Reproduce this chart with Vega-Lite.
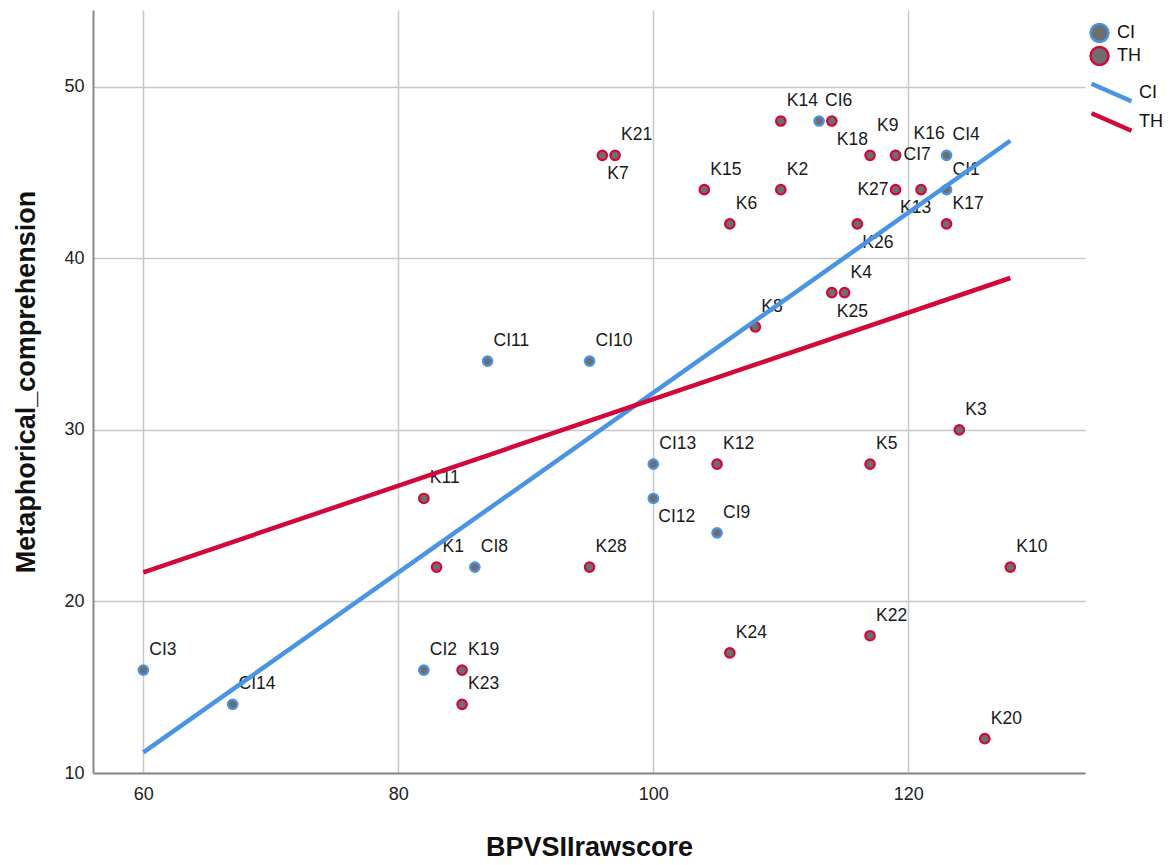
{
  "$schema": "https://vega.github.io/schema/vega-lite/v6.json",
  "width": 992,
  "height": 763,
  "autosize": {"type": "none"},
  "padding": {"left": 93, "top": 10, "right": 90, "bottom": 92},
  "background": "white",
  "config": {
    "font": "Liberation Sans",
    "view": {"stroke": null},
    "axis": {"labelFont": "Liberation Sans", "titleFont": "Liberation Sans"},
    "legend": {"labelFont": "Liberation Sans"}
  },
  "datasets": {
    "points": [
      {"name": "CI3", "group": "CI", "x": 60, "y": 16},
      {"name": "CI14", "group": "CI", "x": 67, "y": 14},
      {"name": "CI2", "group": "CI", "x": 82, "y": 16},
      {"name": "CI8", "group": "CI", "x": 86, "y": 22},
      {"name": "CI11", "group": "CI", "x": 87, "y": 34},
      {"name": "CI10", "group": "CI", "x": 95, "y": 34},
      {"name": "CI13", "group": "CI", "x": 100, "y": 28},
      {"name": "CI12", "group": "CI", "x": 100, "y": 26},
      {"name": "CI9", "group": "CI", "x": 105, "y": 24},
      {"name": "CI6", "group": "CI", "x": 113, "y": 48},
      {"name": "CI7", "group": "CI", "x": 119, "y": 46},
      {"name": "CI4", "group": "CI", "x": 123, "y": 46},
      {"name": "CI1", "group": "CI", "x": 123, "y": 44},
      {"name": "K19", "group": "TH", "x": 85, "y": 16},
      {"name": "K23", "group": "TH", "x": 85, "y": 14},
      {"name": "K11", "group": "TH", "x": 82, "y": 26},
      {"name": "K1", "group": "TH", "x": 83, "y": 22},
      {"name": "K28", "group": "TH", "x": 95, "y": 22},
      {"name": "K7", "group": "TH", "x": 96, "y": 46},
      {"name": "K21", "group": "TH", "x": 97, "y": 46},
      {"name": "K12", "group": "TH", "x": 105, "y": 28},
      {"name": "K15", "group": "TH", "x": 104, "y": 44},
      {"name": "K6", "group": "TH", "x": 106, "y": 42},
      {"name": "K2", "group": "TH", "x": 110, "y": 44},
      {"name": "K14", "group": "TH", "x": 110, "y": 48},
      {"name": "K18", "group": "TH", "x": 114, "y": 48},
      {"name": "K8", "group": "TH", "x": 108, "y": 36},
      {"name": "K25", "group": "TH", "x": 114, "y": 38},
      {"name": "K4", "group": "TH", "x": 115, "y": 38},
      {"name": "K26", "group": "TH", "x": 116, "y": 42},
      {"name": "K9", "group": "TH", "x": 117, "y": 46},
      {"name": "K16", "group": "TH", "x": 119, "y": 46},
      {"name": "K27", "group": "TH", "x": 119, "y": 44},
      {"name": "K13", "group": "TH", "x": 121, "y": 44},
      {"name": "K17", "group": "TH", "x": 123, "y": 42},
      {"name": "K5", "group": "TH", "x": 117, "y": 28},
      {"name": "K3", "group": "TH", "x": 124, "y": 30},
      {"name": "K10", "group": "TH", "x": 128, "y": 22},
      {"name": "K22", "group": "TH", "x": 117, "y": 18},
      {"name": "K24", "group": "TH", "x": 106, "y": 17},
      {"name": "K20", "group": "TH", "x": 126, "y": 12}
    ],
    "fits": [
      {"fit": "CI_fit", "x": 60, "y": 11.2},
      {"fit": "CI_fit", "x": 128, "y": 46.85},
      {"fit": "TH_fit", "x": 60, "y": 21.7},
      {"fit": "TH_fit", "x": 128, "y": 38.85}
    ]
  },
  "encoding": {
    "x": {
      "field": "x", "type": "quantitative",
      "scale": {"domain": [56.05, 133.86], "nice": false, "zero": false},
      "axis": {
        "values": [60, 80, 100, 120], "grid": true, "gridColor": "#C8C8C8", "gridWidth": 1.5,
        "domainColor": "#8A8A8A", "domainWidth": 2, "ticks": false,
        "labelFontSize": 18, "labelColor": "#222222", "labelPadding": 12,
        "title": "BPVSIIrawscore", "titleFontSize": 27, "titleFontWeight": "bold", "titleColor": "#111111",
        "titleY": 82, "titleBaseline": "alphabetic"
      }
    },
    "y": {
      "field": "y", "type": "quantitative",
      "scale": {"domain": [10, 54.47], "nice": false, "zero": false},
      "axis": {
        "values": [10, 20, 30, 40, 50], "grid": true, "gridColor": "#C8C8C8", "gridWidth": 1.5,
        "domainColor": "#8A8A8A", "domainWidth": 2, "ticks": false,
        "labelFontSize": 18, "labelColor": "#222222", "labelPadding": 9,
        "title": "Metaphorical_comprehension", "titleFontSize": 27, "titleFontWeight": "bold", "titleColor": "#111111",
        "titleAngle": 270, "titleX": -58.5, "titleY": 371.5, "titleBaseline": "alphabetic", "titleAlign": "center"
      }
    }
  },
  "layer": [
    {
      "data": {"name": "points"},
      "mark": {"type": "point", "shape": "circle", "filled": false, "fill": "#6E6E6E", "fillOpacity": 1, "strokeWidth": 2.2, "size": 90, "opacity": 1},
      "encoding": {
        "stroke": {
          "field": "group", "type": "nominal",
          "scale": {"domain": ["CI", "TH"], "range": ["#4A94E6", "#D3083A"]},
          "legend": {
            "title": null, "orient": "none", "legendX": 996, "legendY": 13, "padding": 0,
            "symbolType": "circle", "symbolSize": 320, "symbolFillColor": "#6E6E6E", "symbolStrokeWidth": 2.5,
            "labelFontSize": 18, "labelColor": "#111111", "labelOffset": 7, "rowPadding": 3, "clipHeight": 20
          }
        }
      }
    },
    {
      "data": {"name": "points"},
      "transform": [{"filter": {"not": {"field": "name", "oneOf": ["K7", "CI12", "K25", "K26", "K18", "K9", "K16", "CI7", "K27", "K13"]}}}],
      "mark": {"type": "text", "align": "left", "baseline": "middle", "dx": 6, "dy": -20, "fontSize": 17.5, "color": "#1A1A1A"},
      "encoding": {"text": {"field": "name"}}
    },
    {
      "data": {"name": "points"},
      "transform": [{"filter": {"field": "name", "oneOf": ["K7", "CI12", "K25", "K26", "K18"]}}],
      "mark": {"type": "text", "align": "left", "baseline": "middle", "dx": 5, "dy": 19, "fontSize": 17.5, "color": "#1A1A1A"},
      "encoding": {"text": {"field": "name"}}
    },
    {
      "data": {"name": "points"},
      "transform": [{"filter": {"field": "name", "equal": "K9"}}],
      "mark": {"type": "text", "align": "left", "baseline": "middle", "dx": 7, "dy": -29, "fontSize": 17.5, "color": "#1A1A1A"},
      "encoding": {"text": {"field": "name"}}
    },
    {
      "data": {"name": "points"},
      "transform": [{"filter": {"field": "name", "equal": "K16"}}],
      "mark": {"type": "text", "align": "left", "baseline": "middle", "dx": 18, "dy": -21, "fontSize": 17.5, "color": "#1A1A1A"},
      "encoding": {"text": {"field": "name"}}
    },
    {
      "data": {"name": "points"},
      "transform": [{"filter": {"field": "name", "equal": "CI7"}}],
      "mark": {"type": "text", "align": "left", "baseline": "middle", "dx": 8, "dy": 0, "fontSize": 17.5, "color": "#1A1A1A"},
      "encoding": {"text": {"field": "name"}}
    },
    {
      "data": {"name": "points"},
      "transform": [{"filter": {"field": "name", "equal": "K27"}}],
      "mark": {"type": "text", "align": "right", "baseline": "middle", "dx": -7, "dy": 0, "fontSize": 17.5, "color": "#1A1A1A"},
      "encoding": {"text": {"field": "name"}}
    },
    {
      "data": {"name": "points"},
      "transform": [{"filter": {"field": "name", "equal": "K13"}}],
      "mark": {"type": "text", "align": "left", "baseline": "middle", "dx": -21, "dy": 18, "fontSize": 17.5, "color": "#1A1A1A"},
      "encoding": {"text": {"field": "name"}}
    },
    {
      "data": {"name": "fits"},
      "mark": {"type": "line", "strokeWidth": 4.5, "strokeCap": "butt"},
      "encoding": {
        "color": {
          "field": "fit", "type": "nominal",
          "scale": {"domain": ["CI_fit", "TH_fit"], "range": ["#4A94E6", "#D3083A"]},
          "legend": {
            "title": null, "orient": "none", "legendX": 996, "legendY": 70, "padding": 0,
            "labelExpr": "replace(datum.label, '_fit', '')",
            "symbolType": "M-1,-0.44L1,0.44", "symbolSize": 1600, "symbolStrokeWidth": 4.5,
            "labelFontSize": 18, "labelColor": "#111111", "labelOffset": 5, "rowPadding": 4.5, "clipHeight": 25
          }
        },
        "detail": {"field": "fit"}
      }
    }
  ]
}
